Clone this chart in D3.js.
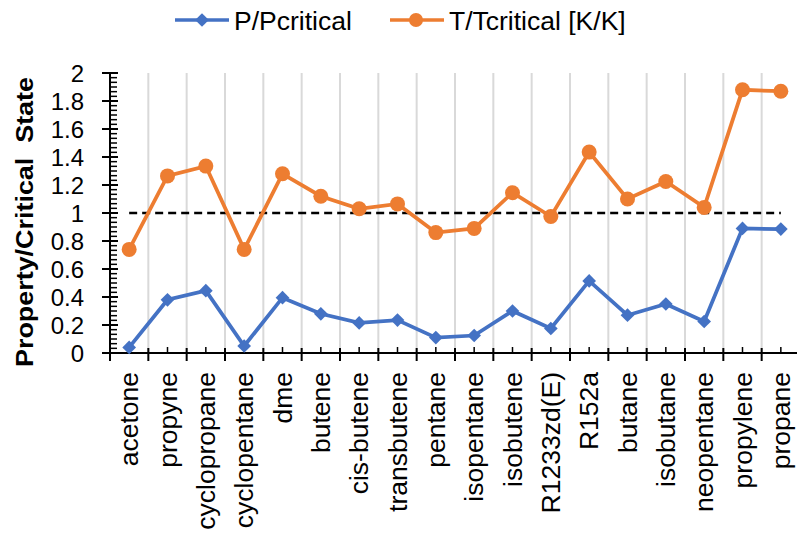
<!DOCTYPE html>
<html>
<head>
<meta charset="utf-8">
<script src="https://cdn.jsdelivr.net/npm/d3@7"></script>
<style>
  body { margin: 0; background: #fff; }
  svg { display: block; font-family: "Liberation Sans", Arial, sans-serif; }
</style>
</head>
<body>
<div id="chart"></div>
<script>
// categories and series
var fluids = ["acetone", "propyne", "cyclopropane", "cyclopentane", "dme", "butene",
  "cis-butene", "transbutene", "pentane", "isopentane", "isobutene", "R1233zd(E)",
  "R152a", "butane", "isobutane", "neopentane", "propylene", "propane"];
var pRatio = [0.04, 0.38, 0.445, 0.05, 0.395, 0.28, 0.215, 0.235, 0.11, 0.125,
  0.30, 0.175, 0.515, 0.27, 0.35, 0.225, 0.89, 0.885];
var tRatio = [0.74, 1.265, 1.335, 0.74, 1.28, 1.12, 1.03, 1.065, 0.86, 0.89,
  1.145, 0.975, 1.435, 1.10, 1.225, 1.04, 1.88, 1.87];
var critical = fluids.map(function() { return 1; });
var yTicks = [0, 0.2, 0.4, 0.6, 0.8, 1, 1.2, 1.4, 1.6, 1.8, 2];
var seriesNames = ["P/Pcritical", "T/Tcritical [K/K]"];

var W = 797, H = 535;
var plotLeft = 110, plotRight = 800, plotTop = 73, plotBottom = 353;
var blue = "#4472C4", orange = "#ED7D31";

var svg = d3.select("#chart").append("svg")
  .attr("width", W).attr("height", H);

var x = d3.scaleBand().domain(fluids).range([plotLeft, plotRight]);
var y = d3.scaleLinear().domain([0, 2]).range([plotBottom, plotTop]);
var cx = function(d) { return x(d) + x.bandwidth() / 2; };

// vertical grid lines at category boundaries
svg.append("g").selectAll("line")
  .data(fluids.slice(1))
  .enter().append("line")
  .attr("x1", function(d) { return x(d); })
  .attr("x2", function(d) { return x(d); })
  .attr("y1", y(2)).attr("y2", y(0))
  .attr("stroke", "#d9d9d9").attr("stroke-width", 2);

// y axis
var yAxis = svg.append("g").attr("transform", "translate(" + plotLeft + ",0)");
var minor = d3.range(0, 2.0001, 0.2 / 6);
yAxis.selectAll(".minor").data(minor).enter().append("line")
  .attr("x1", 0).attr("x2", 7)
  .attr("y1", function(d) { return y(d); }).attr("y2", function(d) { return y(d); })
  .attr("stroke", "#000").attr("stroke-width", 1.5);
yAxis.selectAll(".major").data(yTicks).enter().append("line")
  .attr("x1", -8).attr("x2", 8)
  .attr("y1", function(d) { return y(d); }).attr("y2", function(d) { return y(d); })
  .attr("stroke", "#000").attr("stroke-width", 2);
yAxis.append("line")
  .attr("y1", y(2) - 1).attr("y2", y(0) + 1)
  .attr("stroke", "#000").attr("stroke-width", 2);
yAxis.selectAll("text").data(yTicks).enter().append("text")
  .attr("x", -26).attr("y", function(d) { return y(d); })
  .attr("dy", "0.36em")
  .attr("text-anchor", "end")
  .style("font-size", "24px")
  .text(function(d) { return d3.format("")(d); });

// y title
svg.append("text")
  .attr("transform", "translate(33," + 222 + ") rotate(-90)")
  .attr("text-anchor", "middle")
  .attr("textLength", 290)
  .attr("lengthAdjust", "spacingAndGlyphs")
  .style("font-size", "23px").style("font-weight", "bold")
  .style("white-space", "pre")
  .text("Property/Critical  State");

// x axis
var xAxis = svg.append("g").attr("transform", "translate(0," + plotBottom + ")");
xAxis.append("line").attr("x1", plotLeft).attr("x2", plotRight)
  .attr("stroke", "#000").attr("stroke-width", 2);
xAxis.selectAll(".major").data(fluids).enter().append("line")
  .attr("x1", function(d) { return x(d); }).attr("x2", function(d) { return x(d); })
  .attr("y1", -5).attr("y2", 8)
  .attr("stroke", "#000").attr("stroke-width", 2);
xAxis.selectAll(".minor").data(fluids).enter().append("line")
  .attr("x1", cx).attr("x2", cx)
  .attr("y1", -6).attr("y2", 0)
  .attr("stroke", "#000").attr("stroke-width", 1.5);
xAxis.selectAll("text").data(fluids).enter().append("text")
  .attr("transform", function(d) { return "translate(" + cx(d) + ",19) rotate(-90)"; })
  .attr("dy", "0.35em")
  .attr("text-anchor", "end")
  .style("font-size", "26.5px")
  .text(function(d) { return d; });

// critical reference line
var line = d3.line()
  .x(function(d, i) { return cx(fluids[i]); })
  .y(function(d) { return y(d); });

svg.append("path")
  .attr("d", line(critical))
  .attr("fill", "none").attr("stroke", "#000")
  .attr("stroke-width", 2.5).attr("stroke-dasharray", "8,5");

// series
svg.append("path").attr("d", line(pRatio))
  .attr("fill", "none").attr("stroke", blue).attr("stroke-width", 3.75);
svg.append("path").attr("d", line(tRatio))
  .attr("fill", "none").attr("stroke", orange).attr("stroke-width", 3.75);

var diamond = d3.symbol().type(d3.symbolDiamond2).size(120);
svg.append("g").selectAll("path").data(pRatio).enter().append("path")
  .attr("d", diamond)
  .attr("transform", function(d, i) { return "translate(" + cx(fluids[i]) + "," + y(d) + ")"; })
  .attr("fill", blue);
svg.append("g").selectAll("circle").data(tRatio).enter().append("circle")
  .attr("cx", function(d, i) { return cx(fluids[i]); })
  .attr("cy", function(d) { return y(d); })
  .attr("r", 7.5).attr("fill", orange);

// legend
var legend = svg.append("g");
var legendItems = [
  {name: seriesNames[0], color: blue, x0: 175, kind: "diamond"},
  {name: seriesNames[1], color: orange, x0: 390, kind: "circle"}
];
legendItems.forEach(function(it) {
  var g = legend.append("g").attr("transform", "translate(" + it.x0 + ",20)");
  g.append("line").attr("x1", 0).attr("x2", 54)
    .attr("stroke", it.color).attr("stroke-width", 3.5);
  if (it.kind === "diamond")
    g.append("path").attr("d", diamond).attr("transform", "translate(27,0)").attr("fill", it.color);
  else
    g.append("circle").attr("cx", 26).attr("r", 7).attr("fill", it.color);
  g.append("text").attr("x", 59).attr("dy", "0.36em")
    .style("font-size", "26.5px")
    .text(it.name);
});
</script>
</body>
</html>
